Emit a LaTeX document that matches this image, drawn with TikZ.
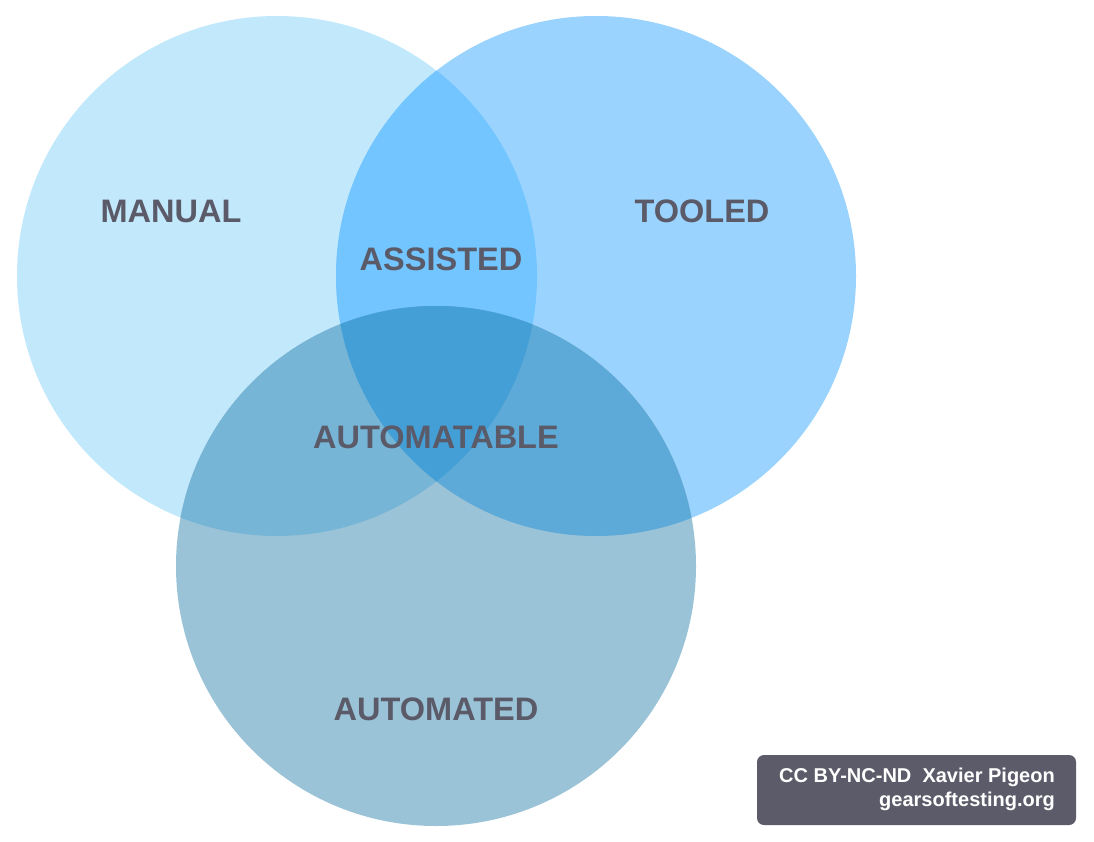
\documentclass[tikz,border=0pt]{standalone}
\usepackage{fontspec}
\setmainfont{Liberation Sans}
\definecolor{cL}{HTML}{C2E8FC}
\definecolor{cR}{HTML}{99D3FE}
\definecolor{cB}{HTML}{9BC3D7}
\definecolor{cLR}{HTML}{72C5FE}
\definecolor{cLB}{HTML}{77B5D6}
\definecolor{cRB}{HTML}{5DAAD8}
\definecolor{cLRB}{HTML}{449FD6}
\definecolor{txt}{HTML}{5A5A68}
\definecolor{boxc}{HTML}{5C5B69}
\begin{document}
\begin{tikzpicture}[x=1pt,y=-1pt,
  lbl/.style={text=txt,font=\bfseries\fontsize{32.5}{32.5}\selectfont,inner sep=0pt,anchor=center},
  credit/.style={text=white,font=\bfseries\fontsize{20}{24}\selectfont,align=right,inner sep=0pt,anchor=east}]
\useasboundingbox (0,0) rectangle (1094,842);
\def\cL{(277,276) circle[radius=260]}
\def\cR{(596,276) circle[radius=260]}
\def\cB{(436,566) circle[radius=260]}
\fill[cL] \cL;
\fill[cR] \cR;
\fill[cB] \cB;
\begin{scope}\clip \cL; \fill[cLR] \cR; \end{scope}
\begin{scope}\clip \cL; \fill[cLB] \cB; \end{scope}
\begin{scope}\clip \cR; \fill[cRB] \cB; \end{scope}
\begin{scope}\clip \cL; \clip \cR; \fill[cLRB] \cB; \end{scope}
\node[lbl] (manual) at (171,211) {MANUAL};
\node[lbl] (tooled) at (702,211) {TOOLED};
\node[lbl] (assisted) at (441,259) {ASSISTED};
\node[lbl] (automatable) at (436,437) {AUTOMATABLE};
\node[lbl] (automated) at (436,709) {AUTOMATED};
\fill[boxc,rounded corners=7pt] (757,755) rectangle (1076,825);
\node[credit] (credit) at (1055,789) {CC BY-NC-ND\ \ Xavier Pigeon\\gearsoftesting.org};
\end{tikzpicture}
\end{document}
